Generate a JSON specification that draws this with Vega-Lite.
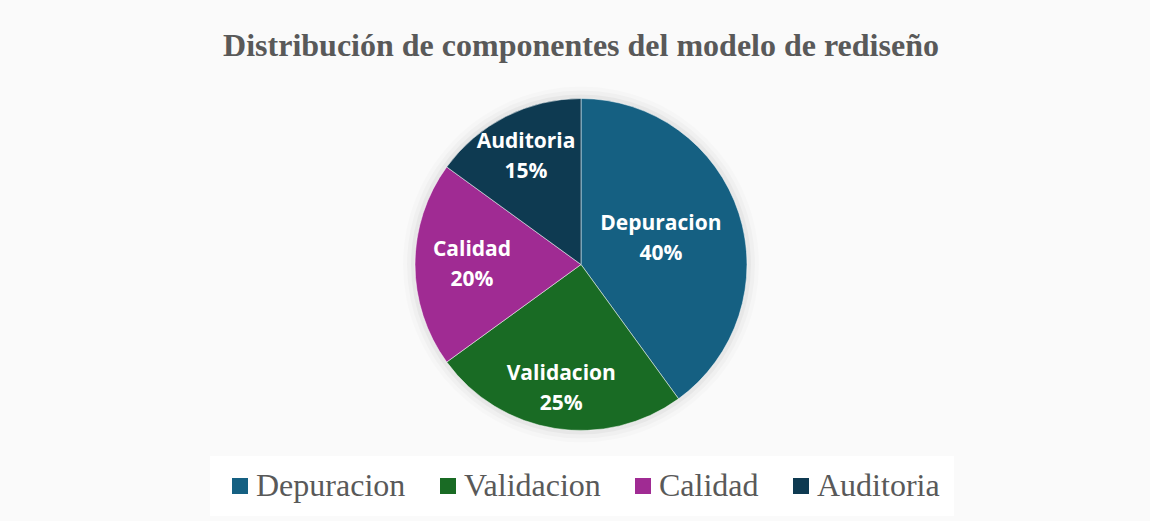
{
  "$schema": "https://vega.github.io/schema/vega-lite/v6.json",
  "width": 1150,
  "height": 521,
  "autosize": {"type": "fit", "contains": "padding"},
  "padding": {"top": 30, "left": 20, "right": 8, "bottom": 73},
  "background": "#fafafa",
  "title": {
    "text": "Distribución de componentes del modelo de rediseño",
    "font": "Liberation Serif",
    "fontSize": 32,
    "fontWeight": "bold",
    "color": "#595959",
    "anchor": "middle",
    "offset": 18
  },
  "data": {
    "values": [
      {"componente": "Depuracion", "valor": 0.40, "orden": 1},
      {"componente": "Validacion", "valor": 0.25, "orden": 2},
      {"componente": "Calidad", "valor": 0.20, "orden": 3},
      {"componente": "Auditoria", "valor": 0.15, "orden": 4}
    ]
  },
  "encoding": {
    "theta": {"field": "valor", "type": "quantitative", "stack": true},
    "order": {"field": "orden", "type": "quantitative"}
  },
  "layer": [
    {
      "data": {"values": [{"s": 1}]},
      "mark": {"type": "arc", "theta": 0, "theta2": 6.2832, "outerRadius": 178, "fill": "#000000", "opacity": 0.015},
      "encoding": {"theta": null, "order": null}
    },
    {
      "data": {"values": [{"s": 1}]},
      "mark": {"type": "arc", "theta": 0, "theta2": 6.2832, "outerRadius": 174, "fill": "#000000", "opacity": 0.025},
      "encoding": {"theta": null, "order": null}
    },
    {
      "data": {"values": [{"s": 1}]},
      "mark": {"type": "arc", "theta": 0, "theta2": 6.2832, "outerRadius": 170, "fill": "#000000", "opacity": 0.035},
      "encoding": {"theta": null, "order": null}
    },
    {
      "mark": {"type": "arc", "outerRadius": 166, "stroke": "#ffffff", "strokeWidth": 0.5},
      "encoding": {
        "color": {
          "field": "componente",
          "type": "nominal",
          "sort": ["Depuracion", "Validacion", "Calidad", "Auditoria"],
          "scale": {
            "domain": ["Depuracion", "Validacion", "Calidad", "Auditoria"],
            "range": ["#156082", "#196B24", "#A02B93", "#0E3A51"]
          },
          "legend": {
            "title": null,
            "orient": "none",
            "legendX": 190,
            "legendY": 375,
            "direction": "horizontal",
            "symbolType": "square",
            "symbolSize": 256,
            "symbolStrokeWidth": 0,
            "labelFont": "Liberation Serif",
            "labelFontSize": 32,
            "labelColor": "#595959",
            "labelOffset": 0,
            "labelLimit": 400,
            "columnPadding": 26,
            "fillColor": "#ffffff",
            "padding": 14
          }
        }
      }
    },
    {
      "mark": {"type": "text", "radius": 84, "dy": -15, "font": "Open Sans", "fontSize": 21, "fontWeight": "bold", "fill": "#ffffff"},
      "encoding": {"text": {"condition": {"test": "datum.componente === 'Depuracion'", "field": "componente"}, "value": ""}}
    },
    {
      "mark": {"type": "text", "radius": 84, "dy": 15, "font": "Open Sans", "fontSize": 21, "fontWeight": "bold", "fill": "#ffffff"},
      "encoding": {"text": {"condition": {"test": "datum.componente === 'Depuracion'", "field": "valor", "format": ".0%"}, "value": ""}}
    },
    {
      "mark": {"type": "text", "radius": 126, "dy": -15, "font": "Open Sans", "fontSize": 21, "fontWeight": "bold", "fill": "#ffffff"},
      "encoding": {"text": {"condition": {"test": "datum.componente === 'Validacion'", "field": "componente"}, "value": ""}}
    },
    {
      "mark": {"type": "text", "radius": 126, "dy": 15, "font": "Open Sans", "fontSize": 21, "fontWeight": "bold", "fill": "#ffffff"},
      "encoding": {"text": {"condition": {"test": "datum.componente === 'Validacion'", "field": "valor", "format": ".0%"}, "value": ""}}
    },
    {
      "mark": {"type": "text", "radius": 109, "dy": -15, "font": "Open Sans", "fontSize": 21, "fontWeight": "bold", "fill": "#ffffff"},
      "encoding": {"text": {"condition": {"test": "datum.componente === 'Calidad'", "field": "componente"}, "value": ""}}
    },
    {
      "mark": {"type": "text", "radius": 109, "dy": 15, "font": "Open Sans", "fontSize": 21, "fontWeight": "bold", "fill": "#ffffff"},
      "encoding": {"text": {"condition": {"test": "datum.componente === 'Calidad'", "field": "valor", "format": ".0%"}, "value": ""}}
    },
    {
      "mark": {"type": "text", "radius": 121, "dy": -15, "font": "Open Sans", "fontSize": 21, "fontWeight": "bold", "fill": "#ffffff"},
      "encoding": {"text": {"condition": {"test": "datum.componente === 'Auditoria'", "field": "componente"}, "value": ""}}
    },
    {
      "mark": {"type": "text", "radius": 121, "dy": 15, "font": "Open Sans", "fontSize": 21, "fontWeight": "bold", "fill": "#ffffff"},
      "encoding": {"text": {"condition": {"test": "datum.componente === 'Auditoria'", "field": "valor", "format": ".0%"}, "value": ""}}
    }
  ],
  "config": {"view": {"stroke": null}}
}
